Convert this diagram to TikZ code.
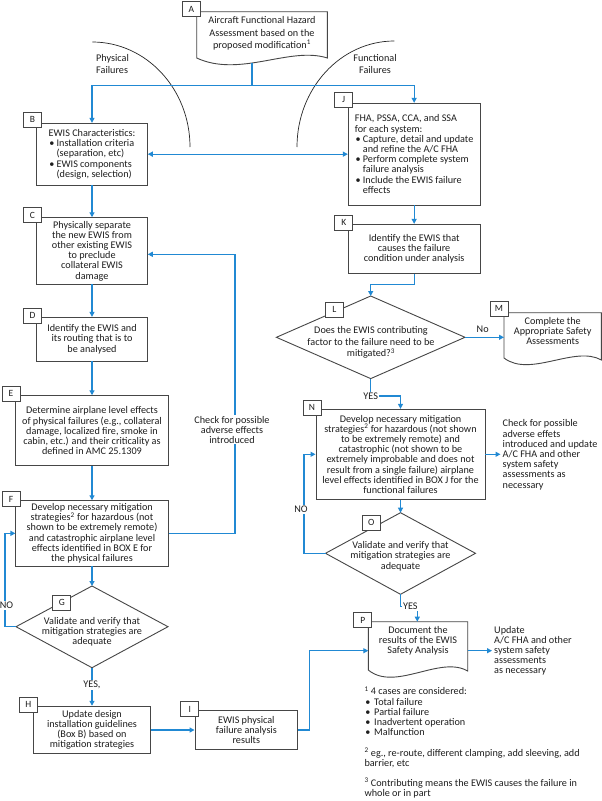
\documentclass[tikz,border=0pt]{standalone}
\usepackage{fontspec}
\setmainfont{Carlito}
\usetikzlibrary{arrows.meta}
\definecolor{flowblue}{RGB}{33,137,211}
\definecolor{boxgray}{RGB}{70,70,70}
\definecolor{txtgray}{RGB}{30,30,30}
\newcommand\mybul{\hspace*{0.7pt}\makebox[7.3pt][l]{\textbullet}}
\newcommand\myind{\hspace*{8pt}}
\newcommand\fnbul{\hspace*{0.8pt}\makebox[8.9pt][l]{\textbullet}}
\begin{document}
\begin{tikzpicture}[x=1pt,y=-1pt,
  every node/.style={font=\fontsize{10.2}{10.2}\selectfont, text=txtgray},
  procbox/.style={draw=boxgray, line width=0.9pt, fill=white, inner sep=0pt, align=center},
  tag/.style={draw=boxgray, line width=0.9pt, fill=white, minimum width=18pt, minimum height=15pt, inner sep=0pt, anchor=north west, font=\fontsize{9.5}{9.5}\selectfont},
  shapeline/.style={draw=boxgray, line width=0.9pt, fill=white},
  conn/.style={draw=flowblue, line width=1.2pt, -{Triangle[length=5pt,width=5pt]}},
  conntwo/.style={draw=flowblue, line width=1.2pt, {Triangle[length=5pt,width=5pt]}-{Triangle[length=5pt,width=5pt]}},
  bline/.style={draw=flowblue, line width=1.2pt},
  lbl/.style={fill=white, inner sep=1pt, align=center},
  ftxt/.style={inner sep=2pt, align=left},
  sepcurve/.style={draw=black!85, line width=0.7pt}
]
\useasboundingbox (0,0) rectangle (602,801);
\fill[white] (0,0) rectangle (602,801);

% separating arcs
\draw[sepcurve] (92.3,42) .. controls (146.3,42) and (190,89) .. (190,147);
\draw[sepcurve] (394.3,41) .. controls (340.6,41) and (297,88.5) .. (297,147);
\node[ftxt, anchor=west, font=\fontsize{10.2}{12}\selectfont] (phys) at (94,64.3) {Physical\\Failures};
\node[align=center, font=\fontsize{10.2}{12}\selectfont] (func) at (375,64.3) {Functional\\Failures};

% document A
\draw[shapeline] (196.7,11.7) -- (327.3,11.7) -- (327.3,58) .. controls (290,46) and (240,78) .. (196.7,58) -- cycle;
\node[align=center, font=\fontsize{10.2}{12.3}\selectfont] (A) at (262,33.5) {Aircraft Functional Hazard\\Assessment based on the\\proposed modification\textsuperscript{1}};
\coordinate (Abot) at (252,62.5);
\coordinate (split) at (252,85.7);

% left column boxes
\node[procbox, align=left, minimum width=110.6pt, minimum height=61.7pt] (B) at (92,154.15) {EWIS Characteristics:\\\mybul Installation criteria\\\myind (separation, etc)\\\mybul EWIS components\\\myind (design, selection)};
\node[procbox, minimum width=110.6pt, minimum height=66.3pt] (C) at (92,250.85) {Physically separate\\the new EWIS from\\other existing EWIS\\to preclude\\collateral EWIS\\damage};
\node[procbox, minimum width=110.6pt, minimum height=43.7pt] (D) at (92,339.15) {Identify the EWIS and\\its routing that is to\\be analysed};
\node[procbox, minimum width=152.3pt, minimum height=70pt] (E) at (92,430.7) {Determine airplane level effects\\of physical failures (e.g., collateral\\damage, localized fire, smoke in\\cabin, etc.) and their criticality as\\defined in AMC 25.1309};
\node[procbox, minimum width=152.3pt, minimum height=65.3pt] (F) at (92,533.35) {Develop necessary mitigation\\strategies\textsuperscript{2} for hazardous (not\\shown to be extremely remote)\\and catastrophic airplane level\\effects identified in BOX E for\\the physical failures};
\coordinate (Gt) at (92,586);
\coordinate (Gr) at (168,626.7);
\coordinate (Gb) at (92,667.7);
\coordinate (Gl) at (16,626.7);
\draw[shapeline] (Gt) -- (Gr) -- (Gb) -- (Gl) -- cycle;
\node[align=center] (G) at (92,631.7) {Validate and verify that\\mitigation strategies are\\adequate};
\node[procbox, minimum width=117.4pt, minimum height=47.6pt] (H) at (92,730) {Update design\\installation guidelines\\(Box B) based on\\mitigation strategies};
\node[procbox, minimum width=102.7pt, minimum height=38.6pt] (I) at (246.35,730) {EWIS physical\\failure analysis\\results};

% right column
\node[procbox, align=left, minimum width=131.7pt, minimum height=101.7pt] (J) at (414.15,154.15) {FHA, PSSA, CCA, and SSA\\for each system:\\\mybul Capture, detail and update\\\myind and refine the A/C FHA\\\mybul Perform complete system\\\myind failure analysis\\\mybul Include the EWIS failure\\\myind effects};
\node[procbox, minimum width=131.7pt, minimum height=49pt] (K) at (414.15,248.8) {Identify the EWIS that\\causes the failure\\condition under analysis};
\coordinate (Lt) at (370.7,296);
\coordinate (Lr) at (465,337.3);
\coordinate (Lb) at (370.7,378.6);
\coordinate (Ll) at (276.4,337.3);
\draw[shapeline] (Lt) -- (Lr) -- (Lb) -- (Ll) -- cycle;
\node[align=center, font=\fontsize{10.2}{11.6}\selectfont] (L) at (371,342.7) {Does the EWIS contributing\\factor to the failure need to be\\mitigated?\textsuperscript{3}};
% document M
\draw[shapeline] (504,312.7) -- (601.4,312.7) -- (601.4,360) .. controls (575,345) and (530,378) .. (504,358) -- cycle;
\node[align=center] (M) at (552.7,331) {Complete the\\Appropriate Safety\\Assessments};
\coordinate (Mw) at (504,337.3);
\node[procbox, minimum width=169pt, minimum height=90pt] (N) at (400.5,454.3) {Develop necessary mitigation\\strategies\textsuperscript{2} for hazardous (not shown\\to be extremely remote) and\\catastrophic (not shown to be\\extremely improbable and does not\\result from a single failure) airplane\\level effects identified in BOX J for the\\functional failures};
\coordinate (Ot) at (400.5,512.7);
\coordinate (Or) at (475.5,553.3);
\coordinate (Ob) at (400.5,594.3);
\coordinate (Ol) at (325.5,553.3);
\draw[shapeline] (Ot) -- (Or) -- (Ob) -- (Ol) -- cycle;
\node[align=center, font=\fontsize{10.2}{10.5}\selectfont] (O) at (400.5,556) {Validate and verify that\\mitigation strategies are\\adequate};
% document P
\draw[shapeline] (368.3,621.7) -- (467.7,621.7) -- (467.7,671) .. controls (440,655) and (395,692) .. (368.3,670) -- cycle;
\node[align=center] (P) at (418,640.7) {Document the\\results of the EWIS\\Safety Analysis};
\coordinate (Pw) at (368.3,650.7);
\coordinate (Pe) at (467.7,650.7);
\coordinate (Ptop) at (417.3,621.7);

% free texts
\node[ftxt, anchor=west] (chk2) at (500.5,454.8) {Check for possible\\adverse effets\\introduced and update\\A/C FHA and other\\system safety\\assessments as\\necessary};
\node[ftxt, anchor=west] (upd) at (492,650.7) {Update\\A/C FHA and other\\system safety\\assessments\\as necessary};
\node[ftxt, anchor=west] (fn) at (362.3,742.5) {\textsuperscript{1} 4 cases are considered:\\\fnbul Total failure\\\fnbul Partial failure\\\fnbul Inadvertent operation\\\fnbul Malfunction\\[10.2pt]\textsuperscript{2} eg., re-route, different clamping, add sleeving, add\\barrier, etc\\[10.2pt]\textsuperscript{3} Contributing means the EWIS causes the failure in\\whole or in part};

% connectors
\draw[bline] (Abot) -- (split);
\draw[conn] (split) -| (B.north);
\draw[conn] (split) -| (J.north);
\draw[conntwo] (J.west) -- (B.east);
\draw[conn] (B.south) -- (C.north);
\draw[conn] (C.south) -- (D.north);
\draw[conn] (D.south) -- (E.north);
\draw[conn] (E.south) -- (F.north);
\draw[conn] (F.south) -- (Gt);
\coordinate (cfb) at (235,254.3);
\draw[conn] (F.east) -| (cfb) -- (C.east |- cfb);
\coordinate (gno) at (5,626.7);
\draw[conn] (Gl) -- (gno) |- (F.west);
\draw[conn] (Gb) -- (H.north);
\draw[conn] (H.east) -- (I.west);
\coordinate (ipc) at (309.3,650.7);
\draw[conn] (I.east) -| (ipc) -- (Pw);
\draw[conn] (J.south) -- (K.north);
\coordinate (kl) at (414.15,284.3);
\draw[conn] (K.south) -- (kl) -| (Lt);
\draw[conn] (Lr) -- (Mw);
\coordinate (ln) at (370.7,396);
\draw[conn] (Lb) -- (ln) -| (N.north);
\draw[conn] (N.east) -- (N.east -| chk2.west);
\draw[conn] (N.south) -- (Ot);
\coordinate (ono) at (304,553.3);
\draw[conn] (Ol) -- (ono) |- (N.west);
\coordinate (op) at (400.5,606.7);
\draw[conn] (Ob) -- (op) -| (Ptop);
\draw[conn] (Pe) -- (Pe -| upd.west);

% connector labels
\node[lbl] (chk1) at (232,429.7) {Check for possible\\adverse effects\\introduced};
\node[lbl] (no1) at (6.5,605.7) {NO};
\node[lbl] (no2) at (301,509.3) {NO};
\node[lbl] (yes1) at (92,685) {YES,};
\node[lbl] (yes2) at (370.7,396) {YES};
\node[lbl] (yes3) at (410.3,606.2) {YES};
\node (no3) at (482.7,329.3) {No};

% tags
\node[tag] (tA) at (182,1) {A};
\node[tag] (tB) at (23,111.5) {B};
\node[tag] (tC) at (23,207.3) {C};
\node[tag] (tD) at (23,307.5) {D};
\node[tag] (tE) at (1.5,385.5) {E};
\node[tag] (tF) at (1.5,491) {F};
\node[tag] (tG) at (52.3,594.5) {G};
\node[tag] (tH) at (19,696.5) {H};
\node[tag] (tI) at (180.3,701) {I};
\node[tag] (tJ) at (334.3,92) {J};
\node[tag] (tK) at (334.3,214.5) {K};
\node[tag] (tL) at (325,301.5) {L};
\node[tag] (tM) at (489.5,300.5) {M};
\node[tag] (tN) at (302.5,399.5) {N};
\node[tag] (tO) at (361.7,514.5) {O};
\node[tag] (tP) at (353.3,612) {P};
\end{tikzpicture}
\end{document}
